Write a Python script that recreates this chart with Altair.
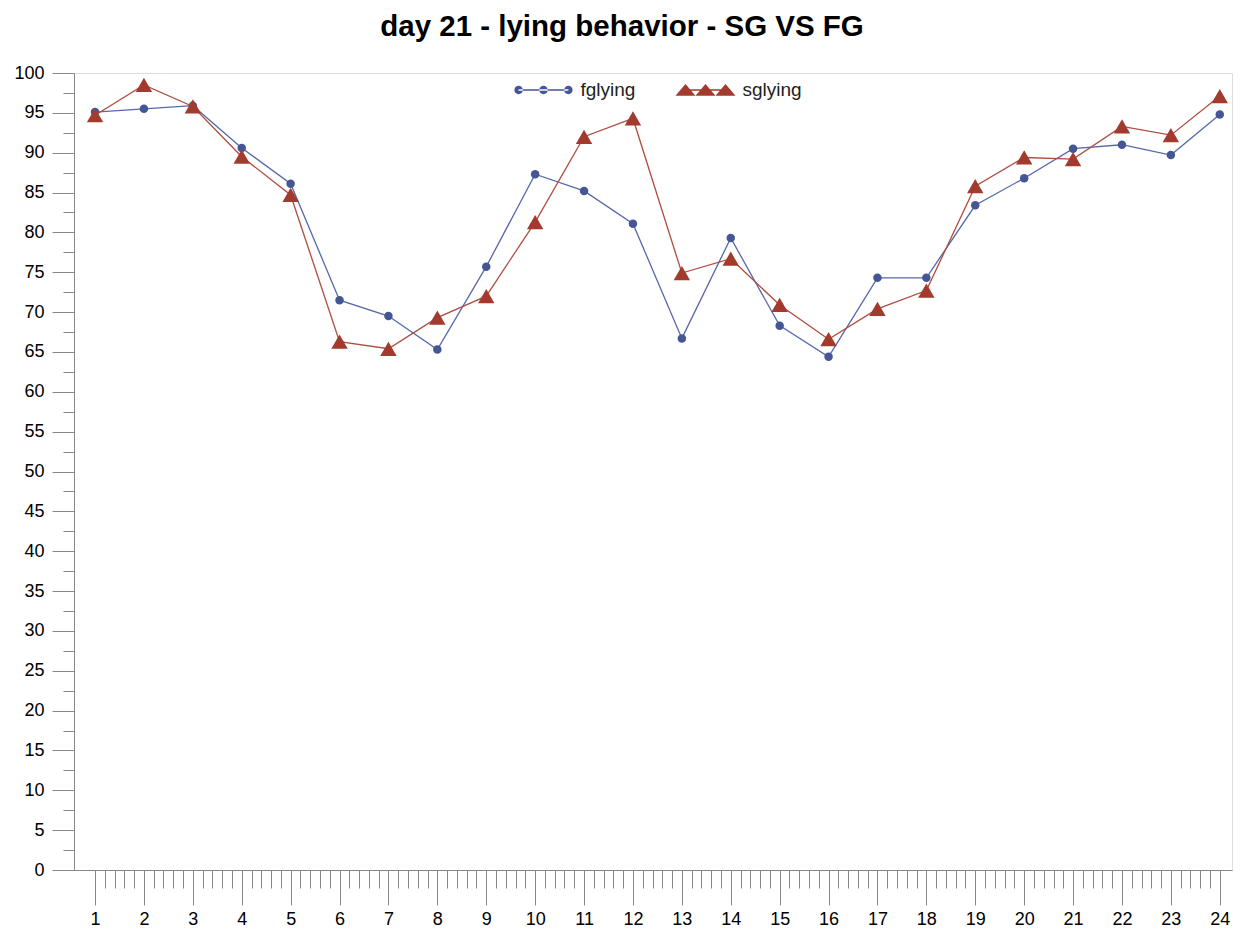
import altair as alt
import pandas as pd

# ---- data ----
hours = list(range(1, 25))
fglying = [95.1, 95.5, 95.9, 90.6, 86.1, 71.5, 69.5, 65.3, 75.7, 87.3, 85.2, 81.1,
           66.7, 79.3, 68.3, 64.4, 74.3, 74.3, 83.4, 86.8, 90.5, 91.0, 89.7, 94.8]
sglying = [94.7, 98.5, 95.8, 89.5, 84.7, 66.3, 65.4, 69.3, 72.0, 81.3, 92.0, 94.3,
           74.9, 76.7, 70.9, 66.6, 70.4, 72.7, 85.8, 89.4, 89.2, 93.3, 92.2, 97.1]
series_names = ["fglying", "sglying"]
series_colors = ["#445694", "#A23A2E"]
line_colors = ["#5568aa", "#b04c40"]
title_text = "day 21 - lying behavior - SG VS FG"
y_ticks = [i * 2.5 for i in range(41)]
x_ticks = [round(1 + 0.2 * i, 1) for i in range(116)]

df = pd.DataFrame({
    "hour": hours * 2,
    "value": fglying + sglying,
    "series": [series_names[0]] * len(hours) + [series_names[1]] * len(hours),
})

# legend symbols (line with three markers) as custom SVG paths
def circle(cx, r):
    return f"M{cx - r},0A{r},{r} 0 1,0 {cx + r},0A{r},{r} 0 1,0 {cx - r},0Z"

def tri(cx, hw, top, bot):
    return f"M{cx},{top}L{cx + hw},{bot}L{cx - hw},{bot}Z"

blue_path = "M-0.83,-0.028L0.83,-0.028L0.83,0.028L-0.83,0.028Z" + "".join(
    circle(c, 0.14) for c in (-0.83, 0.0, 0.83))
red_path = "M-0.667,-0.028L0.667,-0.028L0.667,0.028L-0.667,0.028Z" + "".join(
    tri(c, 0.333, -0.2, 0.19) for c in (-0.667, 0.0, 0.667))

FONT = "Liberation Sans"
GRAY = "#a3a7ad"
major_x = "abs(datum.value - round(datum.value)) < 0.01"

x_enc = alt.X(
    "hour:Q",
    scale=alt.Scale(domain=[0.57, 24.25], nice=False, zero=False),
    axis=alt.Axis(
        values=x_ticks,
        labelExpr=f"{major_x} ? '' + round(datum.value) : ''",
        tickSize={"condition": {"test": major_x, "value": 35}, "value": 18},
        title=None, grid=False, labelOverlap=False, labelFlush=False,
        labelPadding=5, labelFontSize=18,
    ),
)
y_enc = alt.Y(
    "value:Q",
    scale=alt.Scale(domain=[0, 100], nice=False, zero=True),
    axis=alt.Axis(
        values=y_ticks,
        labelExpr="datum.value % 5 === 0 ? '' + datum.value : ''",
        tickSize={"condition": {"test": "datum.value % 5 === 0", "value": 22}, "value": 11},
        title=None, grid=False, labelOverlap=False, labelFlush=False,
        labelPadding=8, labelFontSize=18,
    ),
)

base = alt.Chart(df).encode(x=x_enc, y=y_enc)

blue_line = base.transform_filter(alt.datum.series == series_names[0]).mark_line(
    color=line_colors[0], strokeWidth=1.3)
blue_pts = base.transform_filter(alt.datum.series == series_names[0]).mark_point(
    shape="circle", filled=True, size=72, color=series_colors[0], opacity=1)
red_line = base.transform_filter(alt.datum.series == series_names[1]).mark_line(
    color=line_colors[1], strokeWidth=1.3)
red_pts = base.transform_filter(alt.datum.series == series_names[1]).mark_point(
    shape="triangle-up", filled=True, size=270, color=series_colors[1], opacity=1)

leg = alt.Legend(
    title=None, orient="none", legendX=439.5, legendY=-13, direction="horizontal",
    symbolSize=3600, symbolOpacity=1, symbolStrokeWidth=0,
    labelFontSize=19, labelFont=FONT, labelColor="#222222", labelOffset=7,
    columnPadding=40, padding=0,
)
legend_layer = base.mark_point(filled=True, opacity=0).encode(
    color=alt.Color("series:N", scale=alt.Scale(domain=series_names, range=series_colors), legend=leg),
    shape=alt.Shape("series:N", scale=alt.Scale(domain=series_names, range=[blue_path, red_path]), legend=leg),
)

chart = alt.layer(blue_line, blue_pts, red_line, red_pts, legend_layer).properties(
    width=1158, height=797,
    title=alt.TitleParams(title_text, fontSize=29.5, font=FONT, fontWeight="bold",
                          anchor="middle", frame="group", dx=-31, offset=18, color="black"),
    autosize=alt.AutoSizeParams(type="none"),
    padding={"left": 66, "top": 65, "right": 5, "bottom": 60},
).configure_view(
    stroke=GRAY, strokeWidth=1
).configure_axis(
    domainColor=GRAY, tickColor=GRAY, labelColor="#222222", labelFont=FONT,
    domainWidth=1, tickWidth=1,
).configure(background="white")

chart.save("out.html", embed_options={"renderer": "svg", "actions": False})
